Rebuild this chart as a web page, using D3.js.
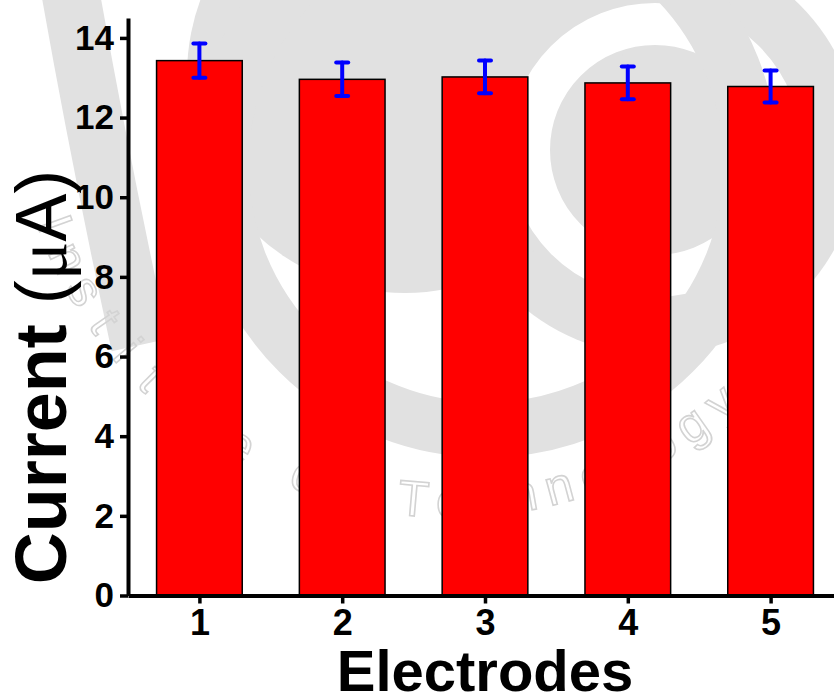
<!DOCTYPE html>
<html>
<head>
<meta charset="utf-8">
<script src="https://cdn.jsdelivr.net/npm/d3@7"></script>
<style>
  body { margin: 0; background: #fff; }
  svg { display: block; }
  text { font-family: Arial, "Liberation Sans", sans-serif; }
</style>
</head>
<body>
<svg id="chart" width="834" height="693"></svg>
<script>
// values
const electrodes = [1, 2, 3, 4, 5];
const current = [13.43, 12.96, 13.02, 12.87, 12.78];   // µA
const currentErr = [0.43, 0.42, 0.41, 0.41, 0.40];
const yTicks = [0, 2, 4, 6, 8, 10, 12, 14];
const sealText = 'Institute of Technology';

const svg = d3.select('#chart');

const x = d3.scaleLinear().domain([0.5, 5.5]).range([128, 842]);
const y = d3.scaleLinear().domain([0, 14.5]).range([595.5, 18]);
const barW = 0.6; // bar width in x units

// faint seal watermark behind the plot (rough shapes only)
const wm = svg.append('g').attr('class', 'watermark');
const wmGray = '#e1e1e1';
// band down the left margin
wm.append('path')
  .attr('d', 'M70,-10 Q100,160 140,345')
  .attr('fill', 'none').attr('stroke', wmGray).attr('stroke-width', 58);
// inner discs
wm.append('circle').attr('cx', 655).attr('cy', 150).attr('r', 205).attr('fill', wmGray);
wm.append('circle').attr('cx', 405).attr('cy', 75).attr('r', 218).attr('fill', wmGray);
wm.append('circle').attr('cx', 655).attr('cy', 150).attr('r', 126)
  .attr('fill', 'none').attr('stroke', '#fff').attr('stroke-width', 42);
// ring band
wm.append('circle').attr('cx', 486).attr('cy', 165).attr('r', 265)
  .attr('fill', 'none').attr('stroke', wmGray).attr('stroke-width', 55);
// outline lettering round the lower arc, one letter every 5 degrees
const sealC = [450, 80], sealR = 420;
wm.append('g')
  .selectAll('text')
  .data(sealText.split(''))
  .join('text')
    .attr('transform', function (d, i) {
      let a = 160 - i * 5;
      let rad = a * Math.PI / 180;
      return 'translate(' + (sealC[0] + sealR * Math.cos(rad)) + ',' + (sealC[1] + sealR * Math.sin(rad)) +
        ') rotate(' + (a - 90) + ')';
    })
    .attr('text-anchor', 'middle')
    .attr('dy', '0.35em')
    .style('font-size', '50px')
    .attr('fill', 'none').attr('stroke', '#d3d3d3').attr('stroke-width', 1.6)
    .text((d) => d);

// bars
svg.append('g')
  .selectAll('rect')
  .data(electrodes)
  .join('rect')
    .attr('x', (d) => x(d - barW / 2))
    .attr('y', (d, i) => y(current[i]))
    .attr('width', (d) => x(d + barW / 2) - x(d - barW / 2))
    .attr('height', (d, i) => y(0) - y(current[i]))
    .attr('fill', '#ff0000')
    .attr('stroke', '#000')
    .attr('stroke-width', 1.5);

// error bars
const err = svg.append('g')
  .attr('stroke', '#0000ff')
  .attr('stroke-width', 4)
  .attr('stroke-linecap', 'round');
electrodes.forEach(function (d, i) {
  let top = y(current[i] + currentErr[i]);
  let bot = y(current[i] - currentErr[i]);
  err.append('line').attr('x1', x(d)).attr('x2', x(d)).attr('y1', top).attr('y2', bot);
  err.append('line').attr('x1', x(d) - 6).attr('x2', x(d) + 6).attr('y1', top).attr('y2', top);
  err.append('line').attr('x1', x(d) - 6).attr('x2', x(d) + 6).attr('y1', bot).attr('y2', bot);
});

// axes
let xAxis = svg.append('g')
  .attr('transform', 'translate(0,' + y(0) + ')')
  .call(d3.axisBottom(x).tickValues(electrodes).tickFormat(d3.format('d'))
    .tickSize(8).tickSizeOuter(0).tickPadding(6));
xAxis.select('.domain').attr('stroke-width', 4);
xAxis.selectAll('.tick line').attr('stroke-width', 3.5);
xAxis.selectAll('.tick text').style('font-size', '36px').style('font-weight', 'bold').attr('fill', '#000');

let yAxis = svg.append('g')
  .attr('transform', 'translate(' + x(0.5) + ',0)')
  .call(d3.axisLeft(y).tickValues(yTicks).tickSize(8).tickSizeOuter(0).tickPadding(6));
yAxis.select('.domain').attr('stroke-width', 4);
yAxis.selectAll('.tick line').attr('stroke-width', 3.5);
yAxis.selectAll('.tick text').style('font-size', '35px').style('font-weight', 'bold').attr('fill', '#000');

// axis titles
svg.append('text')
  .attr('x', x(3)).attr('y', 691)
  .attr('text-anchor', 'middle')
  .style('font-size', '58px').style('font-weight', 'bold')
  .text('Electrodes');

let yLabel = svg.append('text')
  .attr('transform', 'translate(66,377) rotate(-90)')
  .attr('text-anchor', 'middle')
  .style('font-size', '72px');
yLabel.append('tspan').style('font-weight', 'bold').text('Current ');
yLabel.append('tspan').text('(');
yLabel.append('tspan').style('font-family', '"Liberation Serif", "Times New Roman", serif').text('μ');
yLabel.append('tspan').text('A');
yLabel.append('tspan').text(')');
</script>
</body>
</html>
